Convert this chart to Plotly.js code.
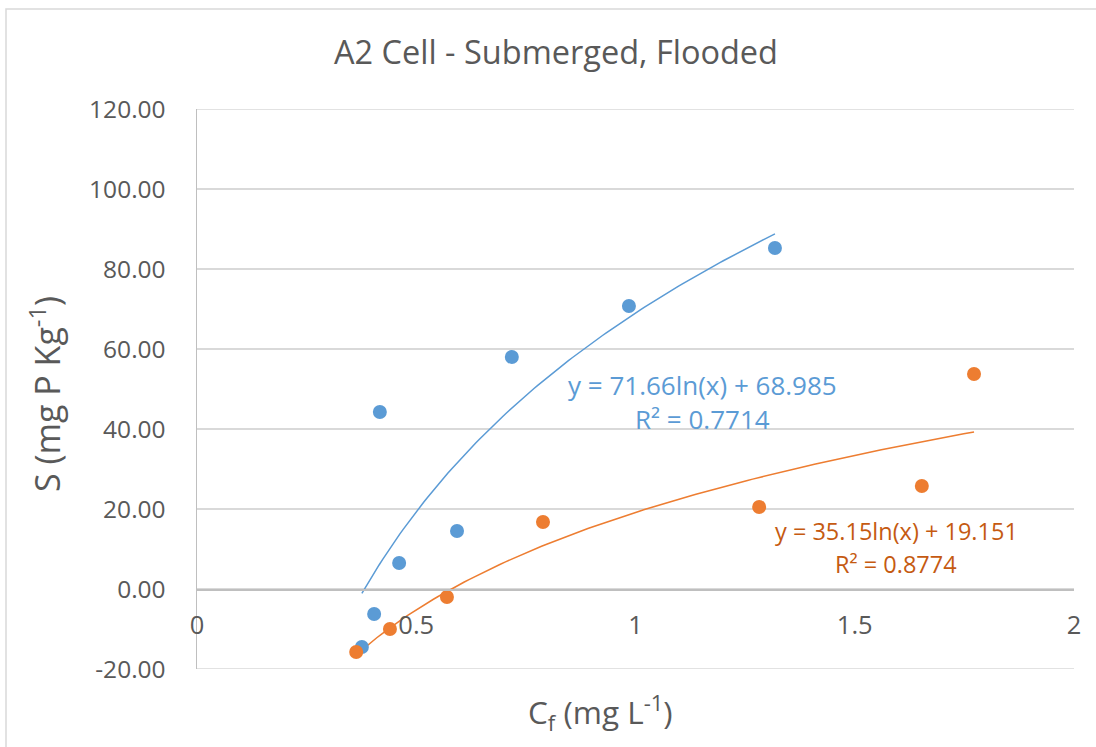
<!DOCTYPE html>
<html>
<head>
<meta charset="utf-8">
<script src="https://cdn.plot.ly/plotly-3.0.1.min.js"></script>
<style>html,body{margin:0;padding:0;background:#fff;}#chart{width:1096px;height:747px;}</style>
</head>
<body>
<div id="chart"></div>
<script>
// Data
const seriesNames = ["Series A (blue)", "Series B (orange)"];
const blueX = [0.376, 0.404, 0.417, 0.461, 0.593, 0.718, 0.985, 1.318];
const blueY = [-14.5, -6.25, 44.25, 6.5, 14.5, 58.0, 70.75, 85.25];
const orangeX = [0.363, 0.440, 0.570, 0.789, 1.282, 1.653, 1.772];
const orangeY = [-15.75, -10.0, -2.0, 16.75, 20.5, 25.75, 53.75];
// Logarithmic trendline coefficients shown on the chart: y = a*ln(x) + b
const blueFit = [71.66, 68.985];
const orangeFit = [35.15, 19.151];
const blueEq = ["y = 71.66ln(x) + 68.985", "R² = 0.7714"];
const orangeEq = ["y = 35.15ln(x) + 19.151", "R² = 0.8774"];
const xTicks = [0, 0.5, 1, 1.5, 2];
const yTicks = [-20, 0, 20, 40, 60, 80, 100, 120];

const BLUE = "#5B9BD5", ORANGE = "#ED7D31";
const FONT = "Open Sans, Liberation Sans, sans-serif";

function trend(xs, fit) {
  const lo = Math.min(...xs), hi = Math.max(...xs);
  const tx = [], ty = [];
  const n = 120;
  for (let i = 0; i <= n; i++) {
    const x = lo + (hi - lo) * i / n;
    tx.push(x); ty.push(fit[0] * Math.log(x) + fit[1]);
  }
  return {x: tx, y: ty};
}
const bt = trend(blueX, blueFit), ot = trend(orangeX, orangeFit);

const data = [
  {x: bt.x, y: bt.y, mode: "lines", line: {color: BLUE, width: 1.5}, hoverinfo: "skip", showlegend: false},
  {x: ot.x, y: ot.y, mode: "lines", line: {color: ORANGE, width: 1.5}, hoverinfo: "skip", showlegend: false},
  {x: blueX, y: blueY, name: seriesNames[0], mode: "markers", marker: {color: BLUE, size: 14}, showlegend: false},
  {x: orangeX, y: orangeY, name: seriesNames[1], mode: "markers", marker: {color: ORANGE, size: 14}, showlegend: false}
];

const L = 197, R = 22, T = 109, B = 78;
const PW = 1096 - L - R, PH = 747 - T - B;
const px = v => (v - L) / PW;          // pixel x -> paper x
const py = v => 1 - (v - T) / PH;      // pixel y -> paper y

const edgeLine = yv => ({type: "line", xref: "paper", yref: "y", x0: 0, x1: 1, y0: yv, y1: yv,
                         line: {color: "#d9d9d9", width: 1.5}, layer: "below"});

const layout = {
  width: 1096, height: 747,
  margin: {l: L, r: R, t: T, b: B, pad: 0},
  paper_bgcolor: "#fff", plot_bgcolor: "#fff",
  font: {family: FONT, color: "#595959"},
  title: {text: "A2 Cell - Submerged, Flooded", font: {family: FONT, size: 32.5, color: "#595959"},
          x: 556 / 1096, xanchor: "center", y: 1 - 53 / 747, yanchor: "middle", xref: "container", yref: "container"},
  xaxis: {range: [0, 2], tickvals: xTicks, ticktext: xTicks.map(String), showgrid: false, zeroline: false,
          showline: true, linecolor: "#bfbfbf", linewidth: 1.5, anchor: "free", position: 20 / 140,
          ticks: "", tickfont: {family: FONT, size: 25.5, color: "#595959"}, ticklabelstandoff: 13},
  yaxis: {range: [-20, 120], tickvals: yTicks, ticktext: yTicks.map(v => v.toFixed(2)), showgrid: true,
          gridcolor: "#d9d9d9", gridwidth: 1.5,
          zeroline: false, showline: true, linecolor: "#bfbfbf", linewidth: 1.5, ticks: "",
          tickfont: {family: FONT, size: 24.5, color: "#595959"}, ticklabelstandoff: 25},
  annotations: [
    {xref: "paper", yref: "paper", x: px(600), y: py(712), text: "C<sub>f</sub> (mg L<sup>-1</sup>)", showarrow: false,
     font: {family: FONT, size: 31.5, color: "#595959"}, xanchor: "center", yanchor: "middle"},
    {xref: "paper", yref: "paper", x: px(45), y: py(394), text: "S (mg P Kg<sup>-1</sup>)", showarrow: false, textangle: -90,
     font: {family: FONT, size: 34, color: "#595959"}, xanchor: "center", yanchor: "middle"},
    {xref: "paper", yref: "paper", x: px(702), y: py(385), text: blueEq[0], showarrow: false,
     font: {family: FONT, size: 26, color: BLUE}, xanchor: "center", yanchor: "middle"},
    {xref: "paper", yref: "paper", x: px(702), y: py(419), text: blueEq[1], showarrow: false,
     font: {family: FONT, size: 26, color: BLUE}, xanchor: "center", yanchor: "middle"},
    {xref: "paper", yref: "paper", x: px(896), y: py(531), text: orangeEq[0], showarrow: false,
     font: {family: FONT, size: 23.5, color: "#C55A11"}, xanchor: "center", yanchor: "middle"},
    {xref: "paper", yref: "paper", x: px(896), y: py(564), text: orangeEq[1], showarrow: false,
     font: {family: FONT, size: 23.5, color: "#C55A11"}, xanchor: "center", yanchor: "middle"}
  ],
  shapes: [
    {type: "rect", xref: "paper", yref: "paper", x0: px(6), x1: px(1110), y0: py(760), y1: py(9),
     line: {color: "#d9d9d9", width: 1.5}, fillcolor: "rgba(0,0,0,0)", layer: "below"},
    edgeLine(-20), edgeLine(120)
  ]
};

Plotly.newPlot("chart", data, layout, {displayModeBar: false, staticPlot: true});
</script>
</body>
</html>
